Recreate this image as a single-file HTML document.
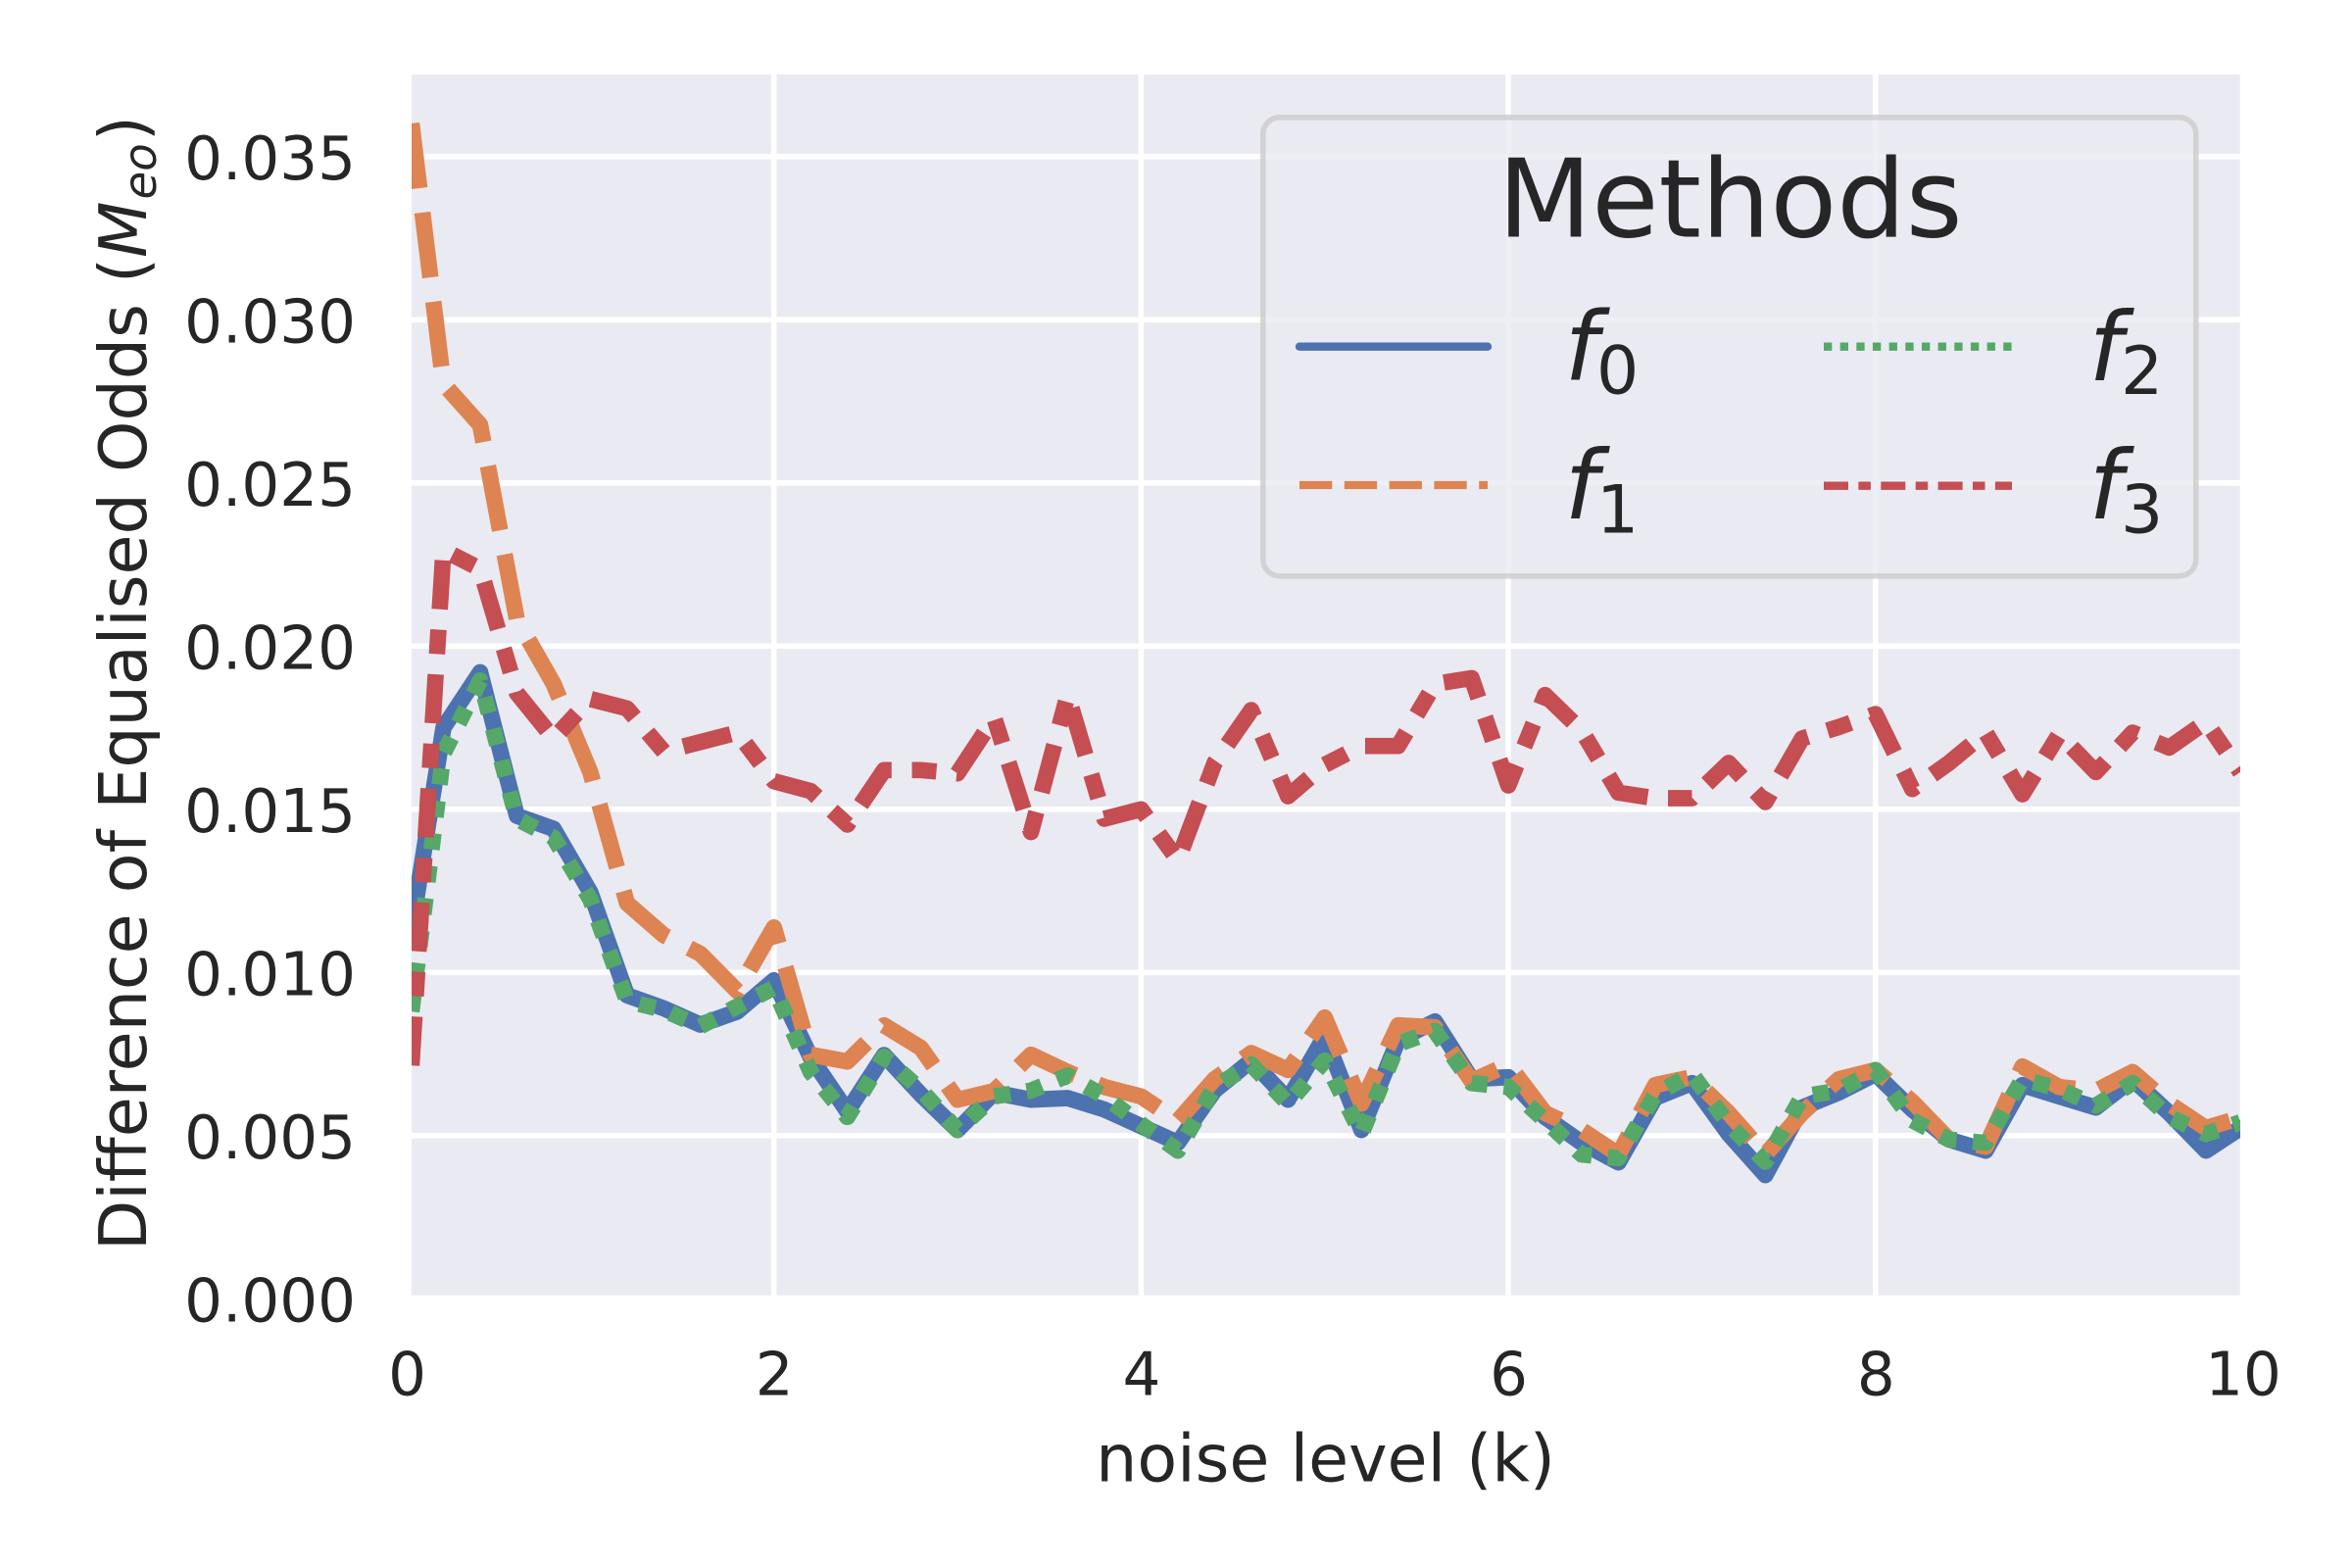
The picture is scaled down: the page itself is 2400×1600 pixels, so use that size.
<!DOCTYPE html>
<html lang="en">
<head>
<meta charset="utf-8">
<title>Difference of Equalised Odds vs noise level</title>
<style>
  html, body { margin: 0; padding: 0; background: #ffffff; }
  svg { display: block; }
  text { font-family: "DejaVu Sans", "Liberation Sans", sans-serif; fill: #262626; }
</style>
</head>
<body>
<svg id="chart" xmlns="http://www.w3.org/2000/svg" width="2400" height="1600" viewBox="0 0 2400 1600">
  <defs>
    <clipPath id="plot-clip"><rect x="420" y="76" width="1866" height="1245.7"></rect></clipPath>
  </defs>
  <rect x="0" y="0" width="2400" height="1600" fill="#ffffff"></rect>
  <rect x="420" y="76" width="1866" height="1245.7" fill="#eaeaf2"></rect>
  <g id="grid" clip-path="url(#plot-clip)"></g>
  <g id="series" clip-path="url(#plot-clip)"></g>
  <g id="x-ticks"></g>
  <g id="y-ticks"></g>

  <text x="1352.5" y="1511.5" font-size="66.67" text-anchor="middle">noise level (k)</text>
  <text transform="translate(149,697.1) rotate(-90)" font-size="66.67" text-anchor="middle">Difference of Equalised Odds (<tspan font-style="italic">M</tspan><tspan font-style="italic" font-size="46.7" dy="10" dx="2">eo</tspan><tspan dy="-10" dx="2">)</tspan></text>

  <g>
    <rect x="1288.8" y="119.8" width="952" height="468" rx="17" ry="17" fill="#eaeaf2" fill-opacity="0.8" stroke="#cccccc" stroke-opacity="0.8" stroke-width="5.56"></rect>
    <text x="1765.5" y="241.7" font-size="111" text-anchor="middle">Methods</text>

    <line x1="1326" y1="353.7" x2="1518" y2="353.7" stroke="#4c72b0" stroke-width="8.33" stroke-linecap="round"></line>
    <text font-size="97"><tspan font-style="italic" x="1596.5" y="387.5">f</tspan><tspan font-size="68" x="1629" y="401.5">0</tspan></text>

    <line x1="1326" y1="495" x2="1518" y2="495" stroke="#dd8452" stroke-width="8.33" stroke-dasharray="33.3 12.5"></line>
    <text font-size="97"><tspan font-style="italic" x="1596.5" y="529">f</tspan><tspan font-size="68" x="1629" y="543.5">1</tspan></text>

    <line x1="1861" y1="353.7" x2="2053" y2="353.7" stroke="#55a868" stroke-width="8.33" stroke-dasharray="8.33 8.33"></line>
    <text font-size="97"><tspan font-style="italic" x="2131.5" y="388">f</tspan><tspan font-size="68" x="2164" y="402">2</tspan></text>

    <line x1="1861" y1="495.7" x2="2053" y2="495.7" stroke="#c44e52" stroke-width="8.33" stroke-dasharray="25 10.4 12.5 10.4"></line>
    <text font-size="97"><tspan font-style="italic" x="2131.5" y="529">f</tspan><tspan font-size="68" x="2164" y="543.5">3</tspan></text>
  </g>
</svg>

<script>
const noiseLevels = [0.026,0.2,0.4,0.6,0.8,1.0,1.2,1.4,1.6,1.8,2.0,2.2,2.4,2.6,2.8,3.0,3.2,3.4,3.6,3.8,4.0,4.2,4.4,4.6,4.8,5.0,5.2,5.4,5.6,5.8,6.0,6.2,6.4,6.6,6.8,7.0,7.2,7.4,7.6,7.8,8.0,8.2,8.4,8.6,8.8,9.0,9.2,9.4,9.6,9.8,9.987];

const f0Values = [0.0113,0.0175,0.0192,0.0148,0.0144,0.01246,0.0093,0.0089,0.0084,0.0088,0.00976,0.0074,0.00574,0.00747,0.00626,0.00517,0.00632,0.0061,0.00615,0.0058,0.00529,0.00478,0.00638,0.0073,0.0061,0.00805,0.00517,0.00793,0.0085,0.00673,0.00679,0.00557,0.00478,0.00418,0.00616,0.00661,0.00505,0.00379,0.00586,0.00632,0.00689,0.0058,0.00488,0.00454,0.00655,0.0062,0.00586,0.00673,0.00569,0.00454,0.00523];

const f1Values = [0.03602,0.02804,0.02678,0.02082,0.01884,0.01614,0.01212,0.01114,0.01057,0.00943,0.01138,0.00748,0.00727,0.00838,0.00769,0.0061,0.00637,0.00748,0.00695,0.00649,0.0062,0.00545,0.00673,0.00753,0.00701,0.00862,0.00598,0.00838,0.00832,0.00667,0.00718,0.00569,0.00517,0.00442,0.00655,0.00679,0.00569,0.00442,0.00569,0.00673,0.00701,0.00604,0.00488,0.00466,0.00712,0.00649,0.00637,0.00695,0.00598,0.00523,0.00555];

const f2Values = [0.0088,0.01671,0.01895,0.01471,0.01413,0.01224,0.00913,0.00885,0.00835,0.00896,0.00953,0.00695,0.00557,0.00742,0.0064,0.00517,0.0062,0.00638,0.00684,0.0062,0.00535,0.00454,0.00649,0.00718,0.00598,0.0073,0.00505,0.00781,0.00821,0.00661,0.00649,0.00546,0.00442,0.00431,0.00626,0.00689,0.00535,0.0042,0.0062,0.00638,0.00701,0.00547,0.00488,0.00478,0.00673,0.00643,0.00592,0.00661,0.00557,0.00505,0.00541];

const f3Values = [0.00715,0.02294,0.02237,0.01856,0.01717,0.01838,0.01809,0.01677,0.01706,0.01735,0.01586,0.01556,0.01453,0.0162,0.0162,0.0161,0.0178,0.0143,0.0185,0.01471,0.015,0.01344,0.01642,0.01804,0.0154,0.01636,0.01694,0.01694,0.01884,0.01902,0.01573,0.0185,0.01741,0.01551,0.01534,0.01534,0.01642,0.01522,0.01717,0.01752,0.01792,0.01562,0.01642,0.01735,0.01546,0.0173,0.01614,0.01735,0.01689,0.01768,0.01614];

const xTickValues = [0,2,4,6,8,10];
const yTickValues = [0,0.005,0.01,0.015,0.02,0.025,0.03,0.035];
const yTickLabels = ["0.000","0.005","0.010","0.015","0.020","0.025","0.030","0.035"];

const SVG_NS = "http://www.w3.org/2000/svg";
const xAxis = function (v) { return 415 + 187.35 * v; };
const yAxis = function (v) { return 1325.3 - 33300 * v; };

const gridGroup = document.getElementById("grid");
const seriesGroup = document.getElementById("series");
const xTickGroup = document.getElementById("x-ticks");
const yTickGroup = document.getElementById("y-ticks");

xTickValues.forEach(function (v) {
  const line = document.createElementNS(SVG_NS, "line");
  
  
  line.setAttribute("x1", xAxis(v));
  line.setAttribute("x2", xAxis(v));
  line.setAttribute("y1", 76);
  line.setAttribute("y2", 1321.7);
  line.setAttribute("stroke", "#ffffff");
  line.setAttribute("stroke-width", 5.56);
  gridGroup.appendChild(line);

  const label = document.createElementNS(SVG_NS, "text");
  
  
  label.setAttribute("x", xAxis(v) + 0.5);
  label.setAttribute("y", 1423.5);
  label.setAttribute("font-size", 61.1);
  label.setAttribute("text-anchor", "middle");
  label.textContent = String(v);
  xTickGroup.appendChild(label);
});

yTickValues.forEach(function (v, i) {
  const line = document.createElementNS(SVG_NS, "line");
  
  
  line.setAttribute("x1", 420);
  line.setAttribute("x2", 2286);
  line.setAttribute("y1", yAxis(v));
  line.setAttribute("y2", yAxis(v));
  line.setAttribute("stroke", "#ffffff");
  line.setAttribute("stroke-width", 5.56);
  gridGroup.appendChild(line);

  const label = document.createElementNS(SVG_NS, "text");
  
  
  label.setAttribute("x", 363);
  label.setAttribute("y", yAxis(v) + 23);
  label.setAttribute("font-size", 61.1);
  label.setAttribute("text-anchor", "end");
  label.textContent = yTickLabels[i];
  yTickGroup.appendChild(label);
});

function drawSeries(values, colour, dash, cap, name) {
  const path = document.createElementNS(SVG_NS, "path");
  
  
  const d = values.map(function (v, i) {
    return (i === 0 ? "M" : "L") + xAxis(noiseLevels[i]).toFixed(2) + " " + yAxis(v).toFixed(2);
  }).join(" ");
  path.setAttribute("d", d);
  path.setAttribute("fill", "none");
  path.setAttribute("stroke", colour);
  path.setAttribute("stroke-width", 16.67);
  path.setAttribute("stroke-linejoin", "round");
  path.setAttribute("stroke-linecap", cap);
  if (dash) path.setAttribute("stroke-dasharray", dash);
  seriesGroup.appendChild(path);
}

drawSeries(f0Values, "#4c72b0", "", "round", "series-f0");
drawSeries(f1Values, "#dd8452", "66.7 25", "butt", "series-f1");
drawSeries(f2Values, "#55a868", "16.67 16.67", "butt", "series-f2");
drawSeries(f3Values, "#c44e52", "50 20.8 25 20.8", "butt", "series-f3");
</script>
</body>
</html>
